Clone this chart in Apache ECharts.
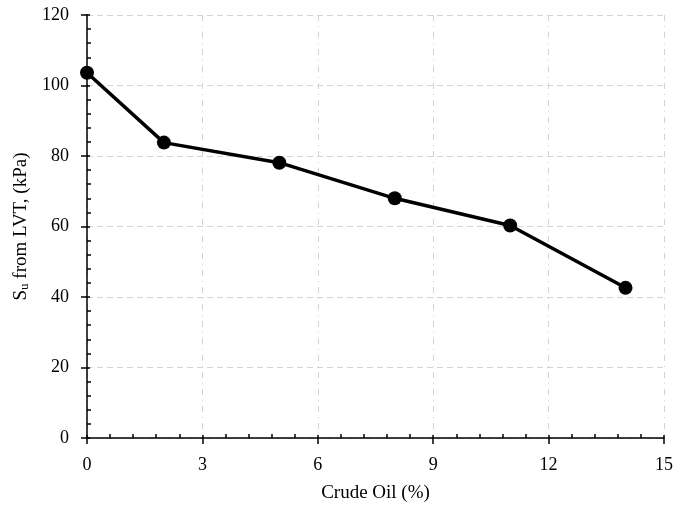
<!DOCTYPE html>
<html><head><meta charset="utf-8">
<script src="https://cdn.jsdelivr.net/npm/echarts@6/dist/echarts.min.js"></script>
<style>html,body{margin:0;padding:0;background:#fff}#c{width:676px;height:508px}</style>
</head><body><div id="c"></div>
<script>
const crudeOil = [0, 2, 5, 8, 11, 14];
const suLVT = [103.6, 83.8, 78.1, 68.0, 60.3, 42.6];
const xTicks = [0, 3, 6, 9, 12, 15];
const yTicks = [0, 20, 40, 60, 80, 100, 120];

const font = 'Liberation Serif, Times New Roman, serif';
const chart = echarts.init(document.getElementById('c'));
const gridDashH = {color: '#d4d4d4', width: 1, type: [6, 4]};
const gridDashV = {color: '#d4d4d4', width: 1, type: [6, 5, 1, 5]};
chart.setOption({
  animation: false,
  backgroundColor: '#fff',
  grid: {left: 87, right: 10, top: 15, bottom: 70},
  xAxis: [{
    type: 'value', min: xTicks[0], max: xTicks[xTicks.length - 1], interval: 3,
    name: 'Crude Oil (%)', nameLocation: 'middle', nameGap: 46,
    nameTextStyle: {fontFamily: font, fontSize: 19, color: '#000'},
    axisLine: {show: true, onZero: false, lineStyle: {color: '#000', width: 1.5}},
    axisTick: {show: true, inside: false, length: 6, lineStyle: {color: '#000', width: 1.5}},
    axisLabel: {fontFamily: font, fontSize: 18, color: '#000', margin: 18},
    splitLine: {show: true, lineStyle: gridDashV}
  }, {
    type: 'value', min: xTicks[0], max: xTicks[xTicks.length - 1], interval: 3,
    position: 'bottom', offset: 0,
    axisLine: {show: false},
    axisTick: {show: true, inside: true, length: 3, lineStyle: {color: '#000', width: 1.5}},
    minorTick: {show: true, splitNumber: 5, length: 4, lineStyle: {color: '#000', width: 1.5}},
    axisLabel: {show: false}, splitLine: {show: false}
  }],
  yAxis: [{
    type: 'value', min: yTicks[0], max: yTicks[yTicks.length - 1], interval: 20,
    name: '{a|S}{s|u}{a| from LVT, (kPa)}', nameLocation: 'middle', nameGap: 54,
    nameTextStyle: {fontFamily: font, fontSize: 19, color: '#000',
      rich: {a: {fontFamily: font, fontSize: 19, color: '#000'},
             s: {fontFamily: font, fontSize: 13, color: '#000', verticalAlign: 'bottom', padding: [7, 0, 0, 0]}}},
    axisLine: {show: true, onZero: false, lineStyle: {color: '#000', width: 1.5}},
    axisTick: {show: true, inside: false, length: 6, lineStyle: {color: '#000', width: 1.5}},
    axisLabel: {fontFamily: font, fontSize: 18, color: '#000', margin: 18},
    splitLine: {show: true, lineStyle: gridDashH}
  }, {
    type: 'value', min: yTicks[0], max: yTicks[yTicks.length - 1], interval: 20,
    position: 'left', offset: 0,
    axisLine: {show: false},
    axisTick: {show: true, inside: true, length: 3, lineStyle: {color: '#000', width: 1.5}},
    minorTick: {show: true, splitNumber: 5, length: 4, lineStyle: {color: '#000', width: 1.5}},
    axisLabel: {show: false}, splitLine: {show: false}
  }],
  series: [{
    type: 'line',
    data: crudeOil.map((x, i) => [x, suLVT[i]]),
    symbol: 'circle', symbolSize: 14,
    lineStyle: {color: '#000', width: 3.5},
    itemStyle: {color: '#000'},
    z: 5
  }]
});
</script></body></html>
